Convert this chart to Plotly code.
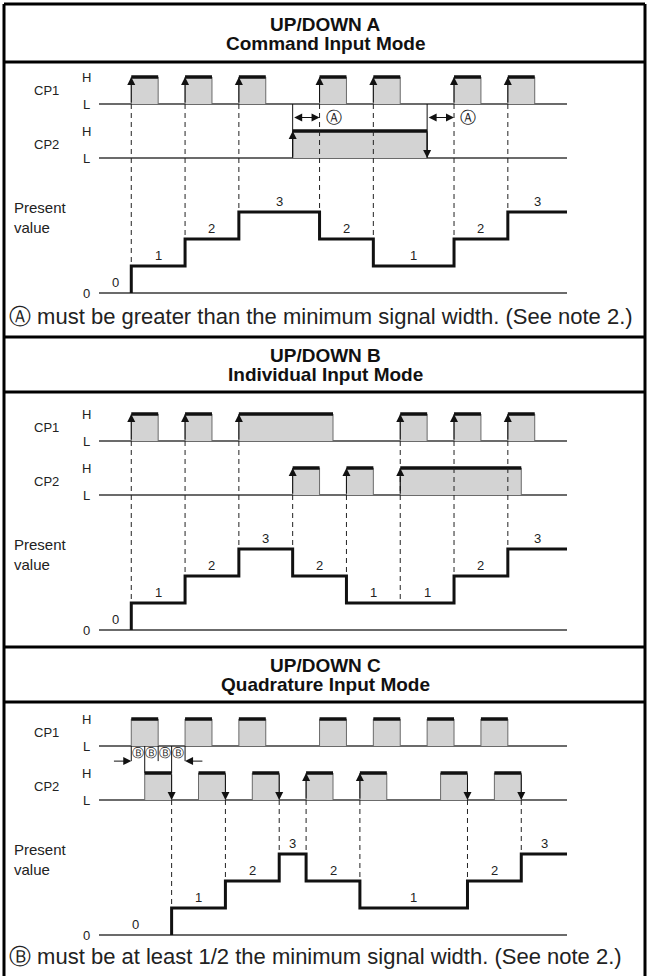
import plotly.graph_objects as go

W, H = 648, 976
FONT = "Liberation Sans, Arial, sans-serif"

# time axis: 1 unit = half of a CP1 pulse width
T_START, T_END = -2.4, 32.4

# ---- UP/DOWN A : command input mode ----
A_CP1_RISE = [0, 4, 8, 14, 18, 24, 28]
A_CP1_FALL = [2, 6, 10, 16, 20, 26, 30]
A_CP2_RISE = [12]
A_CP2_FALL = [22]
A_COUNT_TIME = [0, 4, 8, 14, 18, 24, 28]
A_COUNT_VALUE = [1, 2, 3, 2, 1, 2, 3]
A_COUNT_SOURCE = ["CP1", "CP1", "CP1", "CP1", "CP1", "CP1", "CP1"]
A_UP = {"CP1": [0, 4, 8, 14, 18, 24, 28], "CP2": [12]}
A_DOWN = {"CP2": [22]}
A_SPANS = [(12, 14), (22, 24)]

# ---- UP/DOWN B : individual input mode ----
B_CP1_RISE = [0, 4, 8, 20, 24, 28]
B_CP1_FALL = [2, 6, 15, 22, 26, 30]
B_CP2_RISE = [12, 16, 20]
B_CP2_FALL = [14, 18, 29]
B_COUNT_TIME = [0, 4, 8, 12, 16, 20, 24, 28]
B_COUNT_VALUE = [1, 2, 3, 2, 1, 1, 2, 3]
B_COUNT_SOURCE = ["CP1", "CP1", "CP1", "CP2", "CP2", "CP1", "CP1", "CP1"]
B_UP = {"CP1": [0, 4, 8, 20, 24, 28], "CP2": [12, 16, 20]}
B_DOWN = {}

# ---- UP/DOWN C : quadrature input mode ----
C_CP1_RISE = [0, 4, 8, 14, 18, 22, 26]
C_CP1_FALL = [2, 6, 10, 16, 20, 24, 28]
C_CP2_RISE = [1, 5, 9, 13, 17, 23, 27]
C_CP2_FALL = [3, 7, 11, 15, 19, 25, 29]
C_COUNT_TIME = [3, 7, 11, 13, 17, 25, 29]
C_COUNT_VALUE = [1, 2, 3, 2, 1, 2, 3]
C_COUNT_SOURCE = ["CP2", "CP2", "CP2", "CP2", "CP2", "CP2", "CP2"]
C_UP = {"CP2": [13, 17]}
C_DOWN = {"CP2": [3, 7, 11, 25, 29]}
C_EDGES_B = [0, 1, 2, 3, 4]

NOTE_A = "Ⓐ must be greater than the minimum signal width. (See note 2.)"
NOTE_C = "Ⓑ must be at least 1/2 the minimum signal width. (See note 2.)"

# layout (pixels)
ROW_BASE = {"CP1": 7, "CP2": 5}
UNIT_PX = 27
ZERO_PX = [293, 630, 935]
NOTE_PX = [316, None, 956]
TITLE_PX = [(24, 43), (355, 374), (665, 684)]
DIVIDERS_PX = [4, 62, 337, 392, 647, 702]

PANELS = [
    dict(title="UP/DOWN A", sub="Command Input Mode",
         CP1=(A_CP1_RISE, A_CP1_FALL), CP2=(A_CP2_RISE, A_CP2_FALL),
         times=A_COUNT_TIME, values=A_COUNT_VALUE, source=A_COUNT_SOURCE,
         up=A_UP, down=A_DOWN, note=NOTE_A),
    dict(title="UP/DOWN B", sub="Individual Input Mode",
         CP1=(B_CP1_RISE, B_CP1_FALL), CP2=(B_CP2_RISE, B_CP2_FALL),
         times=B_COUNT_TIME, values=B_COUNT_VALUE, source=B_COUNT_SOURCE,
         up=B_UP, down=B_DOWN, note=None),
    dict(title="UP/DOWN C", sub="Quadrature Input Mode",
         CP1=(C_CP1_RISE, C_CP1_FALL), CP2=(C_CP2_RISE, C_CP2_FALL),
         times=C_COUNT_TIME, values=C_COUNT_VALUE, source=C_COUNT_SOURCE,
         up=C_UP, down=C_DOWN, note=NOTE_C),
]


def py(px):
    return 1 - px / H


def px_x(px):
    return px / W


fig = go.Figure()
annotations = []
shapes = []


def label(text, x, y, yref, size=13, color="#222222", xanchor="center", **kw):
    annotations.append(dict(
        x=x, y=y, xref=kw.pop("xref", "paper"), yref=yref, text=text, showarrow=False,
        xanchor=xanchor, yanchor="middle",
        font={"size": size, "color": color, "family": FONT}, **kw,
    ))


def line_trace(xs, ys, yref, color="#111111", width=1, dash=None):
    fig.add_trace(go.Scatter(
        x=xs, y=ys, yaxis=yref, mode="lines",
        line={"color": color, "width": width, "dash": dash},
        hoverinfo="skip", showlegend=False,
    ))


def arrow(x, y, ax, ay, yref, side="end"):
    annotations.append(dict(
        x=x, y=y, ax=ax, ay=ay, xref="x", yref=yref, axref="x", ayref=yref,
        text="", showarrow=True, arrowhead=2, arrowsize=1.6, arrowwidth=1,
        arrowcolor="#111111", arrowside=side, standoff=0, startstandoff=0,
    ))


for i, p in enumerate(PANELS):
    yr = "y" if i == 0 else f"y{i + 1}"

    # L baselines and the zero line
    bx, by = [], []
    for base in (ROW_BASE["CP1"], ROW_BASE["CP2"], 0):
        bx += [T_START, T_END, None]
        by += [base, base, None]
    line_trace(bx, by, yr, color="#3a3a3a", width=1.5)

    # pulses
    for sig in ("CP1", "CP2"):
        rises, falls = p[sig]
        b = ROW_BASE[sig]
        fx, fy, tx, ty = [], [], [], []
        for r, f in zip(rises, falls):
            fx += [r, r, f, f, None]
            fy += [b, b + 1, b + 1, b, None]
            tx += [r, f, None]
            ty += [b + 1, b + 1, None]
        fig.add_trace(go.Scatter(
            x=fx, y=fy, yaxis=yr, mode="lines", fill="toself",
            fillcolor="#d3d3d3", line={"color": "#6a6a6a", "width": 1},
            hoverinfo="skip", showlegend=False,
        ))
        line_trace(tx, ty, yr, color="#111111", width=3.5)

    # dashed links from the counting edges to the present value
    dx, dy = [], []
    prev = 0
    for t, v, src in zip(p["times"], p["values"], p["source"]):
        dx += [t, t, None]
        dy += [ROW_BASE[src], max(prev, v), None]
        prev = v
    line_trace(dx, dy, yr, color="#222222", width=1, dash="5px,4px")

    # present value staircase
    sx, sy = [p["times"][0]], [0]
    prev = 0
    for t, v in zip(p["times"], p["values"]):
        sx += [t, t]
        sy += [prev, v]
        prev = v
    sx.append(T_END)
    sy.append(prev)
    line_trace(sx, sy, yr, color="#111111", width=3)

    # step value labels
    segs = [(T_START, p["times"][0], 0)]
    ends = p["times"][1:] + [T_END]
    for t, e, v in zip(p["times"], ends, p["values"]):
        segs.append((t, e, v))
    for s, e, v in segs:
        label(str(v), (s + e) / 2, v, yr, xref="x", yshift=11)

    # edge arrows
    for sig, ts in p["up"].items():
        b = ROW_BASE[sig]
        for t in ts:
            arrow(t, b + 1, t, b, yr)
    for sig, ts in p["down"].items():
        b = ROW_BASE[sig]
        for t in ts:
            arrow(t, b, t, b + 1, yr)

    # left labels
    for sig in ("CP1", "CP2"):
        b = ROW_BASE[sig]
        label(sig, px_x(46), b + 0.5, yr)
        label("H", px_x(86), b + 1, yr)
        label("L", px_x(86), b, yr)
    label("Present<br>value", px_x(12), 2.8, yr, size=15, xanchor="left", align="left")
    label("0", px_x(86), 0, yr)

    # titles
    t1, t2 = TITLE_PX[i]
    label(f"<b>{p['title']}</b>", px_x(325), py(t1), "paper", size=19, color="#111111")
    label(f"<b>{p['sub']}</b>", px_x(325), py(t2), "paper", size=19, color="#111111")

    if p["note"]:
        label(p["note"], px_x(7), py(NOTE_PX[i]), "paper", size=22, xanchor="left")

# (A) span markers in panel A
for s0, s1 in A_SPANS:
    line_trace([s0, s0], [ROW_BASE["CP2"], ROW_BASE["CP1"]], "y", width=1)
    arrow(s1, 6.5, s0, 6.5, "y", side="end+start")
    label("Ⓐ", s1, 6.5, "y", size=16, xref="x", xanchor="left", xshift=4)

# (B) phase markers in panel C
for t in C_EDGES_B:
    bottom = ROW_BASE["CP2"] + 1 if (t in C_CP2_RISE or t in C_CP2_FALL) else 6.44
    line_trace([t, t], [ROW_BASE["CP1"], bottom], "y3", width=1)
for a, b in zip(C_EDGES_B[:-1], C_EDGES_B[1:]):
    label("Ⓑ", (a + b) / 2, 6.74, "y3", size=12, xref="x")
arrow(C_EDGES_B[0], 6.44, C_EDGES_B[0] - 1.4, 6.44, "y3")
arrow(C_EDGES_B[-1], 6.44, C_EDGES_B[-1] + 1.4, 6.44, "y3")

# frame and dividers
frame = {"color": "#000000", "width": 3}
shapes.append(dict(type="line", xref="paper", yref="paper", x0=px_x(4), x1=px_x(4), y0=py(4), y1=0, line=frame))
shapes.append(dict(type="line", xref="paper", yref="paper", x0=px_x(645), x1=px_x(645), y0=py(4), y1=0, line=frame))
for yp in DIVIDERS_PX:
    shapes.append(dict(type="line", xref="paper", yref="paper", x0=px_x(4), x1=px_x(645),
                       y0=py(yp), y1=py(yp), line=frame))

layout_axes = {}
for i, z in enumerate(ZERO_PX):
    name = "yaxis" if i == 0 else f"yaxis{i + 1}"
    layout_axes[name] = dict(range=[-1, 9], domain=[py(z + UNIT_PX), py(z - 9 * UNIT_PX)],
                             anchor="x", visible=False, fixedrange=True)

fig.update_layout(
    width=W, height=H,
    margin={"l": 0, "r": 0, "t": 0, "b": 0},
    paper_bgcolor="#ffffff", plot_bgcolor="#ffffff",
    showlegend=False,
    xaxis=dict(range=[T_START, T_END], domain=[px_x(99), px_x(567)], visible=False, fixedrange=True),
    annotations=annotations,
    shapes=shapes,
    **layout_axes,
)

fig.write_html(
    "out.html",
    config={"displayModeBar": False, "staticPlot": True},
    post_script="document.body.style.margin='0';document.body.style.overflow='hidden';",
)
